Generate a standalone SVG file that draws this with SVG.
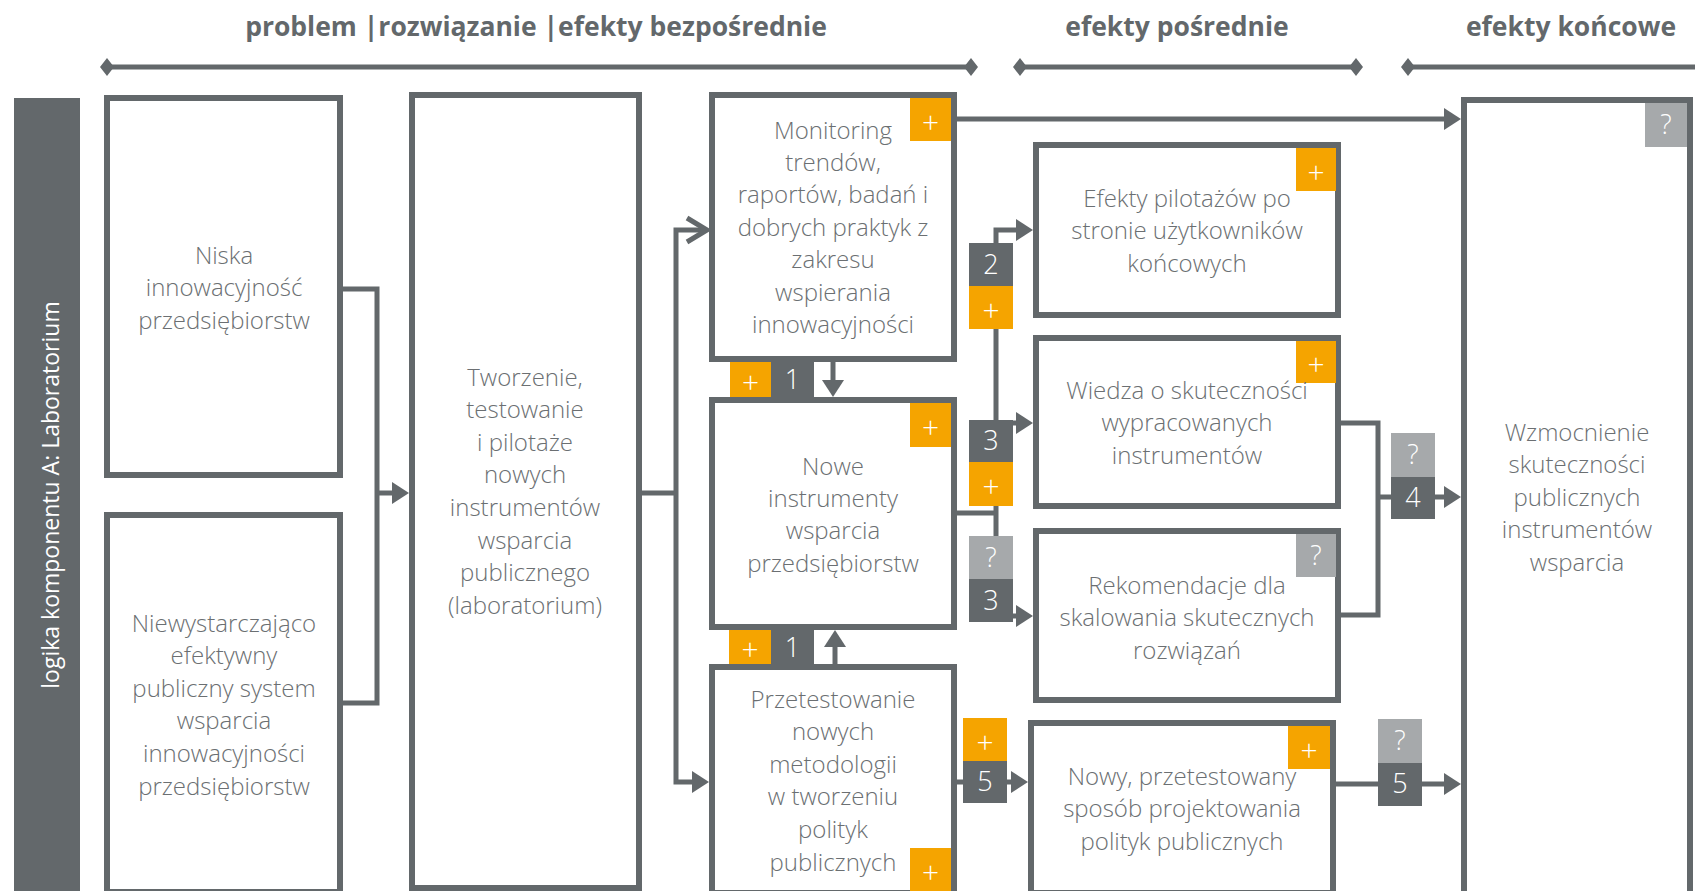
<svg xmlns="http://www.w3.org/2000/svg" width="1695" height="891" viewBox="0 0 1695 891">
  <defs>
    <style>
      .hdr { font-family: "Open Sans", "Liberation Sans", sans-serif; font-weight: 700; font-size: 26.5px; fill: #63686b; text-anchor: middle; }
      .side { font-family: "Open Sans", "Liberation Sans", sans-serif; font-size: 23px; fill: #ffffff; text-anchor: middle; }
      .box { fill: #ffffff; stroke: #63686b; stroke-width: 6; }
      .txt { font-family: "Open Sans", "Liberation Sans", sans-serif; font-weight: 300; font-size: 24px; fill: #6b6f72; text-anchor: middle; }
      .wire { fill: none; stroke: #63686b; stroke-width: 5; }
      .scale { fill: none; stroke: #63686b; stroke-width: 5; }
      .dia { fill: #63686b; }
      .plus { fill: #f5a400; }
      .num { fill: #63686b; }
      .ask { fill: #a6a9ab; }
      .bt { font-family: "Open Sans", "Liberation Sans", sans-serif; font-weight: 300; font-size: 27px; fill: #ffffff; text-anchor: middle; }
      .pl { font-family: "Open Sans", "Liberation Sans", sans-serif; font-weight: 300; font-size: 30px; fill: #ffffff; text-anchor: middle; }
    </style>
    <marker id="tri" markerUnits="userSpaceOnUse" markerWidth="18" markerHeight="22" refX="9" refY="11" orient="auto">
      <path d="M0,0 L17,11 L0,22 z" fill="#63686b"/>
    </marker>
    <marker id="chev" markerUnits="userSpaceOnUse" markerWidth="26" markerHeight="30" refX="19" refY="15" orient="auto">
      <path d="M2,3 L22,15 L2,27" fill="none" stroke="#63686b" stroke-width="5"/>
    </marker>
  </defs>

  <!-- column headings with span bars -->
  <g id="headings">
    <text class="hdr" x="536" y="36">problem |rozwiązanie |efekty bezpośrednie</text>
    <text class="hdr" x="1177" y="36">efekty pośrednie</text>
    <text class="hdr" x="1571" y="36">efekty końcowe</text>
    <path class="scale" d="M104,67 H974 M1017,67 H1359 M1405,67 H1695"/>
    <path class="dia" d="M100,67 l7,-9 l7,9 l-7,9 z M964,67 l7,-9 l7,9 l-7,9 z M1013,67 l7,-9 l7,9 l-7,9 z M1349,67 l7,-9 l7,9 l-7,9 z M1401,67 l7,-9 l7,9 l-7,9 z"/>
  </g>

  <!-- side band -->
  <g id="band">
    <rect x="14" y="98" width="66" height="793" fill="#63686b"/>
    <text class="side" transform="translate(59,495) rotate(-90)">logika komponentu A: Laboratorium</text>
  </g>

  <!-- connectors -->
  <g id="connectors">
    <path class="wire" d="M343,289 H377 V703 H343"/>
    <path class="wire" d="M377,493 H401" marker-end="url(#tri)"/>
    <path class="wire" d="M642,493 H676"/>
    <path class="wire" d="M676,493 V230 H704" marker-end="url(#chev)"/>
    <path class="wire" d="M676,493 V782 H701" marker-end="url(#tri)"/>
    <path class="wire" d="M833,362 V389" marker-end="url(#tri)"/>
    <path class="wire" d="M835,664 V638" marker-end="url(#tri)"/>
    <path class="wire" d="M957,119 H1453" marker-end="url(#tri)"/>
    <path class="wire" d="M957,513 H996"/>
    <path class="wire" d="M996,616 V230 H1025" marker-end="url(#tri)"/>
    <path class="wire" d="M996,423 H1025" marker-end="url(#tri)"/>
    <path class="wire" d="M996,616 H1025" marker-end="url(#tri)"/>
    <path class="wire" d="M1341,423 H1378 V615 H1341"/>
    <path class="wire" d="M1378,497 H1453" marker-end="url(#tri)"/>
    <path class="wire" d="M957,782 H1020" marker-end="url(#tri)"/>
    <path class="wire" d="M1336,784 H1453" marker-end="url(#tri)"/>

    <!-- connector tags -->
    <rect class="plus" x="730" y="362" width="41" height="35"/><text class="pl" x="750.5" y="392.5">+</text>
    <rect class="num" x="771" y="362" width="43" height="35"/><text class="bt" x="792.5" y="389">1</text>
    <rect class="plus" x="729" y="630" width="42" height="34"/><text class="pl" x="750" y="660">+</text>
    <rect class="num" x="771" y="630" width="43" height="34"/><text class="bt" x="792.5" y="657">1</text>

    <rect class="num" x="969" y="243" width="44" height="43"/><text class="bt" x="991" y="274">2</text>
    <rect class="plus" x="969" y="286" width="44" height="43"/><text class="pl" x="991" y="320.5">+</text>
    <rect class="num" x="969" y="420" width="44" height="42"/><text class="bt" x="991" y="450">3</text>
    <rect class="plus" x="969" y="462" width="44" height="44"/><text class="pl" x="991" y="497">+</text>
    <rect class="ask" x="969" y="536" width="44" height="43"/><text class="bt" x="991" y="567">?</text>
    <rect class="num" x="969" y="579" width="44" height="43"/><text class="bt" x="991" y="610">3</text>

    <rect class="plus" x="963" y="718" width="44" height="43"/><text class="pl" x="985" y="752.5">+</text>
    <rect class="num" x="963" y="761" width="44" height="42"/><text class="bt" x="985" y="791">5</text>

    <rect class="ask" x="1391" y="433" width="44" height="44"/><text class="bt" x="1413" y="464">?</text>
    <rect class="num" x="1391" y="477" width="44" height="42"/><text class="bt" x="1413" y="507">4</text>

    <rect class="ask" x="1378" y="719" width="44" height="44"/><text class="bt" x="1400" y="750">?</text>
    <rect class="num" x="1378" y="763" width="44" height="43"/><text class="bt" x="1400" y="793">5</text>
  </g>

  <!-- problems -->
  <g id="niska">
    <rect class="box" x="107" y="98" width="233" height="377"/>
    <text class="txt" x="224" y="263.5"><tspan x="224">Niska</tspan><tspan x="224" dy="32.5">innowacyjność</tspan><tspan x="224" dy="32.5">przedsiębiorstw</tspan></text>
  </g>
  <g id="niewystarczajaco">
    <rect class="box" x="107" y="515" width="233" height="377"/>
    <text class="txt" x="224" y="631.5"><tspan x="224">Niewystarczająco</tspan><tspan x="224" dy="32.6">efektywny</tspan><tspan x="224" dy="32.6">publiczny system</tspan><tspan x="224" dy="32.6">wsparcia</tspan><tspan x="224" dy="32.6">innowacyjności</tspan><tspan x="224" dy="32.6">przedsiębiorstw</tspan></text>
  </g>

  <!-- solution -->
  <g id="tworzenie">
    <rect class="box" x="412" y="95" width="227" height="793"/>
    <text class="txt" x="525" y="385.5"><tspan x="525">Tworzenie,</tspan><tspan x="525" dy="32.6">testowanie</tspan><tspan x="525" dy="32.6">i pilotaże</tspan><tspan x="525" dy="32.6">nowych</tspan><tspan x="525" dy="32.6">instrumentów</tspan><tspan x="525" dy="32.6">wsparcia</tspan><tspan x="525" dy="32.6">publicznego</tspan><tspan x="525" dy="32.6">(laboratorium)</tspan></text>
  </g>

  <!-- direct effects -->
  <g id="monitoring">
    <rect class="box" x="712" y="95" width="242" height="264"/>
    <rect class="plus" x="910" y="98" width="41" height="43"/><text class="pl" x="930.5" y="132.5">+</text>
    <text class="txt" x="833" y="138.5"><tspan x="833">Monitoring</tspan><tspan x="833" dy="32.4">trendów,</tspan><tspan x="833" dy="32.4">raportów, badań i</tspan><tspan x="833" dy="32.4">dobrych praktyk z</tspan><tspan x="833" dy="32.4">zakresu</tspan><tspan x="833" dy="32.4">wspierania</tspan><tspan x="833" dy="32.4">innowacyjności</tspan></text>
  </g>
  <g id="nowe">
    <rect class="box" x="712" y="400" width="242" height="227"/>
    <rect class="plus" x="910" y="403" width="41" height="44"/><text class="pl" x="930.5" y="438">+</text>
    <text class="txt" x="833" y="474.5"><tspan x="833">Nowe</tspan><tspan x="833" dy="32.4">instrumenty</tspan><tspan x="833" dy="32.4">wsparcia</tspan><tspan x="833" dy="32.4">przedsiębiorstw</tspan></text>
  </g>
  <g id="przetestowanie">
    <rect class="box" x="712" y="667" width="242" height="226"/>
    <rect class="plus" x="910" y="848" width="41" height="43"/><text class="pl" x="930.5" y="882.5">+</text>
    <text class="txt" x="833" y="707.5"><tspan x="833">Przetestowanie</tspan><tspan x="833" dy="32.6">nowych</tspan><tspan x="833" dy="32.6">metodologii</tspan><tspan x="833" dy="32.6">w tworzeniu</tspan><tspan x="833" dy="32.6">polityk</tspan><tspan x="833" dy="32.6">publicznych</tspan></text>
  </g>

  <!-- intermediate effects -->
  <g id="efekty-pilotazy">
    <rect class="box" x="1036" y="145" width="302" height="170"/>
    <rect class="plus" x="1296" y="148" width="40" height="43"/><text class="pl" x="1316" y="182.5">+</text>
    <text class="txt" x="1187" y="206.5"><tspan x="1187">Efekty pilotażów po</tspan><tspan x="1187" dy="32.5">stronie użytkowników</tspan><tspan x="1187" dy="32.5">końcowych</tspan></text>
  </g>
  <g id="wiedza">
    <rect class="box" x="1036" y="338" width="302" height="168"/>
    <rect class="plus" x="1296" y="341" width="40" height="42"/><text class="pl" x="1316" y="375">+</text>
    <text class="txt" x="1187" y="398.5"><tspan x="1187">Wiedza o skuteczności</tspan><tspan x="1187" dy="32.5">wypracowanych</tspan><tspan x="1187" dy="32.5">instrumentów</tspan></text>
  </g>
  <g id="rekomendacje">
    <rect class="box" x="1036" y="531" width="302" height="169"/>
    <rect class="ask" x="1296" y="534" width="40" height="43"/><text class="bt" x="1316" y="565">?</text>
    <text class="txt" x="1187" y="593.5"><tspan x="1187">Rekomendacje dla</tspan><tspan x="1187" dy="32.5">skalowania skutecznych</tspan><tspan x="1187" dy="32.5">rozwiązań</tspan></text>
  </g>
  <g id="nowy-sposob">
    <rect class="box" x="1031" y="723" width="302" height="170"/>
    <rect class="plus" x="1288" y="726" width="42" height="43"/><text class="pl" x="1309" y="760.5">+</text>
    <text class="txt" x="1182" y="784.5"><tspan x="1182">Nowy, przetestowany</tspan><tspan x="1182" dy="32.5">sposób projektowania</tspan><tspan x="1182" dy="32.5">polityk publicznych</tspan></text>
  </g>

  <!-- final effect -->
  <g id="wzmocnienie">
    <rect class="box" x="1464" y="100" width="226" height="794"/>
    <rect class="ask" x="1645" y="103" width="42" height="44"/><text class="bt" x="1666" y="134">?</text>
    <text class="txt" x="1577" y="440.5"><tspan x="1577">Wzmocnienie</tspan><tspan x="1577" dy="32.5">skuteczności</tspan><tspan x="1577" dy="32.5">publicznych</tspan><tspan x="1577" dy="32.5">instrumentów</tspan><tspan x="1577" dy="32.5">wsparcia</tspan></text>
  </g>
</svg>
